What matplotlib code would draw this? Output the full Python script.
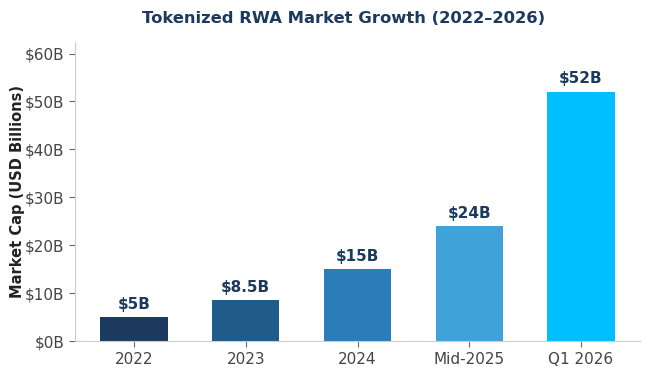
import numpy as np
import matplotlib.pyplot as plt

# Data
periods = ["2022", "2023", "2024", "Mid-2025", "Q1 2026"]
market_cap = [5, 8.5, 15, 24, 52]
value_labels = ["$5B", "$8.5B", "$15B", "$24B", "$52B"]
bar_colors = ["#1b3a5e", "#1f5b8b", "#2a7db8", "#3fa3d9", "#00bfff"]

fig = plt.figure(figsize=(6.5, 3.75), dpi=100)
ax = fig.add_axes([0.115, 0.09, 0.87, 0.798])

x = np.arange(len(periods))
bars = ax.bar(x, market_cap, width=0.6, color=bar_colors)

# value labels above bars
for b, lab in zip(bars, value_labels):
    ax.annotate(lab, (b.get_x() + b.get_width() / 2, b.get_height()),
                xytext=(0, 4), textcoords="offset points",
                ha="center", va="bottom", fontsize=11, fontweight="bold",
                color="#1b3a5e")

ax.set_xticks(x)
ax.set_xticklabels(periods)
ax.set_ylim(0, max(market_cap) * 1.2)
ax.set_yticks(np.arange(0, 61, 10))
ax.set_yticklabels([f"${v}B" for v in range(0, 61, 10)])
ax.tick_params(axis="both", labelsize=11, colors="#444444", length=4)
ax.tick_params(axis="both", color="#666666")

ax.set_ylabel("Market Cap (USD Billions)", fontsize=10.5, fontweight="bold",
              color="#222222", labelpad=0)
ax.set_title("Tokenized RWA Market Growth (2022\u20132026)", fontsize=11.8,
             fontweight="bold", color="#1b3a5e", pad=14, x=0.475)

for s in ["top", "right"]:
    ax.spines[s].set_visible(False)
for s in ["left", "bottom"]:
    ax.spines[s].set_color("#cccccc")

fig.savefig("out.png", dpi=100)
